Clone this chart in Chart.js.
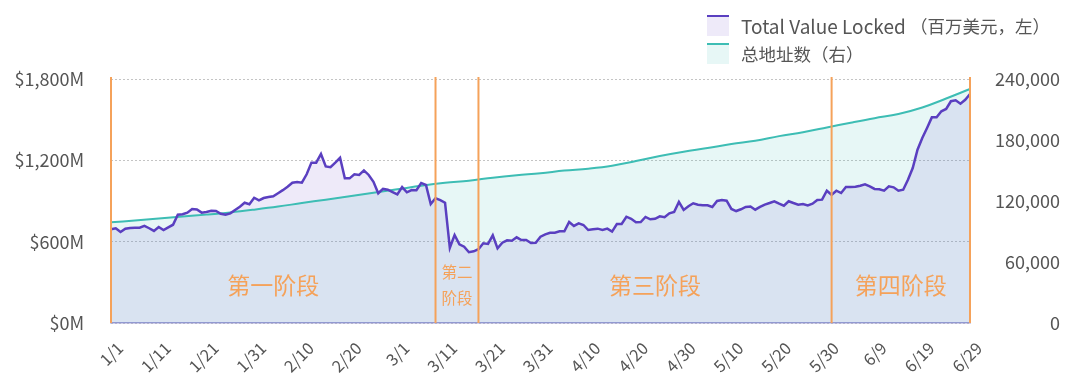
<!DOCTYPE html>
<html>
<head>
<meta charset="utf-8">
<script src="https://cdn.jsdelivr.net/npm/chart.js@4.4.1/dist/chart.umd.min.js"></script>
<style>
  html, body { margin: 0; padding: 0; background: #fff; }
  #wrap { position: relative; width: 1080px; height: 387px; }
  canvas { display: block; }
  #legend { position: absolute; left: 707px; top: 11px; font-family: "Noto Sans CJK SC", "Noto Sans", sans-serif; font-size: 17.5px; color: #555; }
  .item { display: flex; align-items: center; height: 28.5px; white-space: nowrap; }
  .box { width: 22px; height: 21px; margin-right: 12px; box-sizing: border-box; }
  .lat { font-size: 19px; }
</style>
</head>
<body>
<div id="wrap">
  <canvas id="c" width="1080" height="387"></canvas>
  <div id="legend">
    <div class="item"><span class="box" style="background:rgba(120,95,205,0.13);border-top:2px solid #5a3fc0;"></span><span class="lat">Total Value Locked&nbsp;</span><span>（百万美元，左）</span></div>
    <div class="item"><span class="box" style="background:rgba(60,190,180,0.12);border-top:2px solid #3dbdb4;"></span><span>总地址数（右）</span></div>
  </div>
</div>
<script>
// ---- categories: daily dates 1/1 .. 6/29 ----
const monthLengths = [31, 29, 31, 30, 31, 29];
const labels = [];
monthLengths.forEach((n, m) => { for (let d = 1; d <= n; d++) labels.push((m + 1) + '/' + d); });

// ---- TVL (million USD, left axis), one per day ----
const tvl = [
  691,699,671,696,701,702,703,716,699,679,
  708,686,706,725,799,802,814,841,838,814,
  819,828,826,806,799,809,834,858,887,876,
  924,905,922,930,935,957,980,1005,1035,1040,
  1035,1097,1183,1183,1247,1155,1149,1183,1219,1067,
  1067,1097,1092,1126,1092,1042,957,989,983,966,
  949,1003,964,981,979,1033,1018,878,920,907,
  887,555,649,581,563,522,529,544,588,583,
  647,551,592,610,607,632,612,612,590,592,
  637,654,666,666,676,676,745,716,735,723,
  686,691,696,686,696,674,730,730,784,769,
  743,745,782,765,769,787,780,809,819,893,
  834,861,883,873,868,868,856,900,907,902,
  841,826,839,856,859,836,856,873,885,898,
  880,865,898,885,873,878,868,880,907,910,
  976,946,976,959,1003,1003,1005,1013,1023,1008,
  989,986,976,1008,1001,976,983,1057,1143,1278,
  1365,1439,1517,1517,1562,1579,1636,1643,1618,1647,
  1689
];

// ---- total addresses (right axis), read every 5 days ----
const addrStep = 5;
const addresses = [
  99000,100900,102800,104700,106600,108800,111500,114500,118000,121300,
  124600,128200,131500,135100,138000,140000,142900,145300,147300,149900,
  151800,154700,159300,164300,168500,172100,176100,179300,183800,187700,
  192300,197000,201500,205600,212000,220800,230200
];

// ---- ticks ----
const leftTicks = [0, 600, 1200, 1800];
const rightTicks = [0, 60000, 120000, 180000, 240000];
const labelEvery = 10;

// ---- phases ----
const phaseBounds = ['1/1', '3/9', '3/18', '5/31', '6/29'];
const phaseNames = ['第一阶段', '第二\n阶段', '第三阶段', '第四阶段'];

const FONT = '"Noto Sans CJK SC", "Noto Sans", sans-serif';
const TXT = '#555555';
const ORANGE = '#f5a25a';

const phasePlugin = {
  id: 'phases',
  afterDatasetsDraw(chart) {
    const { ctx, chartArea, scales: { x } } = chart;
    const px = phaseBounds.map(l => x.getPixelForValue(labels.indexOf(l)));
    ctx.save();
    ctx.strokeStyle = ORANGE;
    ctx.lineWidth = 2;
    px.forEach(p => {
      ctx.beginPath();
      ctx.moveTo(p, chartArea.top - 2);
      ctx.lineTo(p, chartArea.bottom);
      ctx.stroke();
    });
    ctx.fillStyle = ORANGE;
    ctx.textAlign = 'center';
    ctx.textBaseline = 'middle';
    phaseNames.forEach((name, i) => {
      const cx = (px[i] + px[i + 1]) / 2;
      const lines = name.split('\n');
      if (lines.length === 1) {
        ctx.font = '23px ' + FONT;
        ctx.fillText(name, cx, chartArea.bottom - 38);
      } else {
        ctx.font = '15.5px ' + FONT;
        lines.forEach((l, j) => ctx.fillText(l, cx, chartArea.bottom - 51 + j * 26));
      }
    });
    ctx.restore();
  }
};

new Chart(document.getElementById('c'), {
  type: 'line',
  data: {
    labels: labels,
    datasets: [
      {
        label: 'Total Value Locked （百万美元，左）',
        data: tvl,
        yAxisID: 'y',
        borderColor: '#5a3fc0',
        backgroundColor: 'rgba(120,95,205,0.13)',
        borderWidth: 2.5,
        pointRadius: 0,
        tension: 0,
        fill: 'origin'
      },
      {
        label: '总地址数（右）',
        data: addresses.map((v, i) => ({ x: labels[i * addrStep], y: v })),
        yAxisID: 'y1',
        borderColor: '#3dbdb4',
        backgroundColor: 'rgba(60,190,180,0.12)',
        borderWidth: 2,
        pointRadius: 0,
        tension: 0.4,
        fill: 'origin'
      }
    ]
  },
  options: {
    responsive: false,
    animation: false,
    devicePixelRatio: 1,
    layout: { padding: { top: 79, left: 0, right: 20, bottom: 0 } },
    plugins: {
      legend: { display: false },
      tooltip: { enabled: false },
      filler: { drawTime: 'beforeDatasetsDraw' }
    },
    scales: {
      x: {
        type: 'category',
        offset: false,
        grid: { display: false, drawTicks: false },
        border: { display: true, color: '#a29fd6', width: 1.5 },
        ticks: {
          autoSkip: false,
          maxRotation: 45,
          minRotation: 45,
          padding: 15,
          labelOffset: 9,
          color: TXT,
          font: { family: FONT, size: 16.5 },
          callback: (v, i) => (i % labelEvery === 0 ? labels[i] : '')
        },
        afterFit: s => { s.height = 64; }
      },
      y: {
        position: 'left',
        min: leftTicks[0],
        max: leftTicks[leftTicks.length - 1],
        afterBuildTicks: s => { s.ticks = leftTicks.map(v => ({ value: v })); },
        grid: { color: '#c4c4c4', lineWidth: 1, drawTicks: false },
        border: { display: false, dash: [2, 2] },
        ticks: {
          padding: 27,
          color: TXT,
          font: { family: FONT, size: 18 },
          callback: v => '$' + Number(v).toLocaleString('en-US') + 'M'
        },
        afterFit: s => { s.width = 111; }
      },
      y1: {
        position: 'right',
        min: rightTicks[0],
        max: rightTicks[rightTicks.length - 1],
        afterBuildTicks: s => { s.ticks = rightTicks.map(v => ({ value: v })); },
        grid: { display: false, drawTicks: false },
        border: { display: false },
        ticks: {
          padding: 20,
          crossAlign: 'far',
          color: TXT,
          font: { family: FONT, size: 18 },
          callback: v => Number(v).toLocaleString('en-US')
        },
        afterFit: s => { s.width = 90; }
      }
    }
  },
  plugins: [phasePlugin]
});
</script>
</body>
</html>
